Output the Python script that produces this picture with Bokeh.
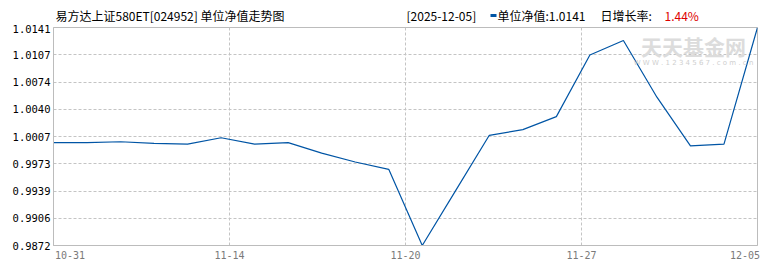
from bokeh.plotting import figure
from bokeh.layouts import column
from bokeh.models import FixedTicker, Label, Range1d
from bokeh.core.properties import value
from bokeh.embed import file_html
from bokeh.resources import INLINE

# ---- data ----
nav = [0.9999, 0.9999, 1.0000, 0.9998, 0.9997, 1.0005, 0.9997, 0.9999,
       0.9986, 0.9975, 0.9966, 0.9872, 0.9940, 1.0008, 1.0015, 1.0031,
       1.0107, 1.0125, 1.0055, 0.9995, 0.9997, 1.0141]
x_tick_labels = ["10-31", "11-14", "11-20", "11-27", "12-05"]
y_tick_labels = ["0.9872", "0.9906", "0.9939", "0.9973", "1.0007",
                 "1.0040", "1.0074", "1.0107", "1.0141"]
title_left = "易方达上证580ET[024952] 单位净值走势图"
info_date = "[2025-12-05]"
info_nav = "单位净值:1.0141"
info_rate_label = "日增长率:"
info_rate = "1.44%"

idx = list(range(len(nav)))
ymin, ymax = min(nav), max(nav)
n = len(nav) - 1
x_ticks = [n * k / 4 for k in range(5)]
y_ticks = [ymin + (ymax - ymin) * k / 8 for k in range(9)]
# first label is drawn right of its tick, last one left of its tick
x_label_pos = [x_ticks[0] + 0.49] + x_ticks[1:-1] + [x_ticks[-1] - 0.37]

GRID = "#c4c4c4"
BORDER = "#bcbcbc"
LINE = "#0055a5"
CJK = "Noto Sans CJK SC"

FL, FR, FB = 53, 757, 245  # frame left / right / bottom in page pixels

# ---------------- header strip ----------------
HEAD_H = 24
head = figure(width=770, height=HEAD_H, output_backend="svg", toolbar_location=None,
              x_range=Range1d(FL, FR), y_range=Range1d(HEAD_H, 0),
              min_border_left=FL, min_border_right=770 - FR,
              min_border_top=0, min_border_bottom=0)
head.axis.visible = False
head.grid.visible = False
head.outline_line_color = None
head.background_fill_color = "white"
head.border_fill_color = "white"

head_x = [55, 406, 497, 600, 664]
head_t = [title_left, info_date, info_nav, info_rate_label, info_rate]
head_c = ["#000000", "#000000", "#000000", "#000000", "#dd0000"]
head.text(x=head_x, y=[14.5] * 5, text=head_t, text_color=head_c,
          text_font=value(CJK), text_font_size="12px",
          text_align="left", text_baseline="middle")
head.rect(x=[493], y=[15], width=6, height=3, fill_color=LINE, line_color=None)

# ---------------- main chart ----------------
p = figure(width=770, height=270 - HEAD_H, output_backend="svg", toolbar_location=None,
           x_range=Range1d(0, n), y_range=Range1d(ymin, ymax),
           min_border_left=FL, min_border_right=770 - FR, min_border_top=27 - HEAD_H,
           min_border_bottom=25)
p.background_fill_color = "white"
p.border_fill_color = "white"
p.outline_line_color = BORDER
p.outline_line_width = 1

p.line(idx, nav, line_color=LINE, line_width=1.2)

xax = p.xaxis[0]
xax.ticker = FixedTicker(ticks=x_label_pos)
xax.major_label_overrides = {t: s for t, s in zip(x_label_pos, x_tick_labels)}
xax.major_tick_out = 0
xax.major_tick_in = 0
xax.minor_tick_out = 0
xax.minor_tick_in = 0
xax.axis_line_color = BORDER
xax.major_label_standoff = 5
xax.major_label_text_font = "DejaVu Sans Mono"
xax.major_label_text_font_size = "10px"
xax.major_label_text_color = "#7a7a7a"

yax = p.yaxis[0]
yax.ticker = FixedTicker(ticks=y_ticks)
yax.major_label_overrides = {t: s for t, s in zip(y_ticks, y_tick_labels)}
yax.major_tick_out = 0
yax.major_tick_in = 0
yax.minor_tick_out = 0
yax.minor_tick_in = 0
yax.axis_line_color = BORDER
yax.major_label_standoff = 3
yax.major_label_text_font = "DejaVu Sans Mono"
yax.major_label_text_font_size = "10.5px"
yax.major_label_text_color = "#000000"

p.ygrid.ticker = FixedTicker(ticks=y_ticks[1:-1])
p.ygrid.grid_line_color = GRID
p.ygrid.grid_line_dash = "3 2"
p.xgrid.ticker = FixedTicker(ticks=x_ticks[1:-1])
p.xgrid.grid_line_color = GRID
p.xgrid.grid_line_dash = "3 2"

# watermark (inside the frame; screen units are frame-relative)
p.add_layout(Label(x=693 - FL, y=FB - 45, x_units="screen", y_units="screen", text="天天基金网",
                   text_align="center", text_baseline="middle", text_font=CJK,
                   text_font_size="21px", text_font_style="bold", text_color="#dcdcdc"))
p.add_layout(Label(x=693 - FL, y=FB - 62.5, x_units="screen", y_units="screen",
                   text="W W W . 1 2 3 4 5 6 7 . c o m . c n",
                   text_align="center", text_baseline="middle", text_font="DejaVu Sans",
                   text_font_size="7px", text_color="#cfcfcf"))

layout = column(head, p, spacing=0)
open("out.html", "w").write(file_html(layout, INLINE))
